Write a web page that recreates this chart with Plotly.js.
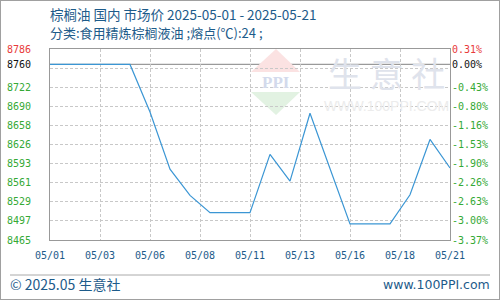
<!DOCTYPE html>
<html><head><meta charset="utf-8">
<script src="https://cdn.plot.ly/plotly-3.0.1.min.js"></script>
<style>
html,body{margin:0;padding:0;background:#fff}
#wrap{position:relative;width:500px;height:300px}
#chart{width:500px;height:300px}
#frame{position:absolute;left:0;top:0;width:500px;height:300px;box-sizing:border-box;border:1px solid #a0a0a0;pointer-events:none}
</style>
</head><body><div id="wrap"><div id="chart"></div><div id="frame"></div></div>
<script>
const dates = ['2025-05-01','2025-05-02','2025-05-03','2025-05-04','2025-05-05','2025-05-06','2025-05-07',
  '2025-05-08','2025-05-09','2025-05-10','2025-05-11','2025-05-12','2025-05-13','2025-05-14',
  '2025-05-15','2025-05-16','2025-05-17','2025-05-18','2025-05-19','2025-05-20','2025-05-21'];
const prices = [8760,8760,8760,8760,8760,8680,8584,8540,8511,8511,8511,8609,8564,8678,8585,8492,8492,8492,8541,8634,8586];
const basePrice = 8760;
const yRange = [8465, 8786];
const yGridVals = [8497.1,8529.2,8561.3,8593.4,8625.5,8657.6,8689.7,8721.8,8753.9];
const yLabelVals = [8465,8497,8529,8561,8593,8626,8658,8690,8722,8760,8786];
const yLabelText = ['8465','8497','8529','8561','8593','8626','8658','8690','8722','8760','8786'];
const pctLabelText = ['-3.37%','-3.00%','-2.63%','-2.26%','-1.90%','-1.53%','-1.16%','-0.80%','-0.43%','0.00%','0.31%'];
const xTickVals = ['2025-05-01 00:00','2025-05-03 12:00','2025-05-06 00:00','2025-05-08 12:00','2025-05-11 00:00',
  '2025-05-13 12:00','2025-05-16 00:00','2025-05-18 12:00','2025-05-21 00:00'];
const xTickText = ['05/01','05/03','05/06','05/08','05/11','05/13','05/16','05/18','05/21'];

const RED='#e83a3a', GREEN='#35a935', BLACK='#111111', BLUE='#1d5b8a';
function colorFor(i){ const v=yLabelVals[i]; if(v===basePrice) return BLACK; if(v>basePrice) return RED; return GREEN; }
const leftText = yLabelText.map((t,i)=>`<span style="color:${colorFor(i)}">${t}</span>`);
const rightText = pctLabelText.map((t,i)=>`<span style="color:${colorFor(i)}">${t}</span>`);

// pixel -> paper helpers for decoration (plot area 50..450 x, 49..240 y)
const PX=(p)=>(p-50)/400, PY=(p)=>(240-p)/191;

const tickFont = {family:'DejaVu Sans Mono, monospace', size:10, color:BLUE};
const traces = [
  {x:dates, y:prices, type:'scatter', mode:'lines', line:{color:'#3b96d4', width:1.2}, hoverinfo:'skip', yaxis:'y'},
  {x:dates, y:prices, type:'scatter', mode:'lines', line:{width:0}, opacity:0, hoverinfo:'skip', yaxis:'y2'},
  {x:dates, y:prices, type:'scatter', mode:'lines', line:{width:0}, opacity:0, hoverinfo:'skip', yaxis:'y3'}
];
const layout = {
  width:500, height:300,
  margin:{l:50, r:50, t:49, b:60, pad:0},
  paper_bgcolor:'#ffffff', plot_bgcolor:'#ffffff',
  showlegend:false,
  title:{text:'棕榈油 国内 市场价 2025-05-01 - 2025-05-21', xref:'paper', x:0, xanchor:'left',
    yref:'container', y:1-15/300, yanchor:'middle', pad:{t:0,b:0,l:0,r:0},
    font:{family:'Noto Sans CJK SC, sans-serif', size:13.5, color:BLUE}},
  xaxis:{type:'date', range:[dates[0], dates[dates.length-1]], tickmode:'array', tickvals:xTickVals, ticktext:xTickText,
    showgrid:true, gridcolor:'#c8c8c8', griddash:'3px,2px', gridwidth:1,
    showline:true, linecolor:'#999999', linewidth:1, mirror:true, ticks:'', zeroline:false,
    tickfont:tickFont, ticklabelstandoff:6, fixedrange:true},
  yaxis:{range:yRange, tickmode:'array', tickvals:yGridVals, showticklabels:false,
    showgrid:true, gridcolor:'#c8c8c8', griddash:'3px,2px', gridwidth:1,
    showline:true, linecolor:'#999999', linewidth:1, mirror:true, ticks:'', zeroline:false, fixedrange:true},
  yaxis2:{overlaying:'y', side:'left', range:yRange, tickmode:'array', tickvals:yLabelVals, ticktext:leftText,
    showgrid:false, showline:false, zeroline:false, ticks:'', ticklabelstandoff:18,
    tickfont:{family:'DejaVu Sans Mono, monospace', size:10, color:GREEN}, fixedrange:true},
  yaxis3:{overlaying:'y', side:'right', range:yRange, tickmode:'array', tickvals:yLabelVals, ticktext:rightText,
    showgrid:false, showline:false, zeroline:false, ticks:'', ticklabelstandoff:1,
    tickfont:{family:'DejaVu Sans Mono, monospace', size:10, color:GREEN}, fixedrange:true},
  shapes:[
    {type:'line', xref:'paper', x0:0, x1:1, yref:'y', y0:basePrice, y1:basePrice, layer:'between',
      line:{color:'#9a9a9a', width:1.2}},
    {type:'path', xref:'paper', yref:'paper', layer:'below', line:{width:0}, fillcolor:'#fbe2e2',
      path:`M ${PX(276)} ${PY(49)} L ${PX(251)} ${PY(72)} L ${PX(300)} ${PY(72)} Z`},
    {type:'path', xref:'paper', yref:'paper', layer:'below', line:{width:0}, fillcolor:'#e2f2e2',
      path:`M ${PX(251)} ${PY(92)} L ${PX(300)} ${PY(92)} L ${PX(276)} ${PY(115)} Z`},
    {type:'line', xref:'paper', yref:'paper', x0:PX(10), x1:PX(490), y0:PY(275), y1:PY(275),
      line:{color:'#aaaaaa', width:1}}
  ],
  annotations:[
    {text:'分类:食用精炼棕榈液油 ;熔点(℃):24 ;', xref:'paper', yref:'paper', x:PX(49), y:PY(33),
      xanchor:'left', yanchor:'middle', showarrow:false, borderpad:0,
      font:{family:'Noto Sans CJK SC, sans-serif', size:13, color:BLUE}},
    {text:'© 2025.05 生意社', xref:'paper', yref:'paper', x:PX(9), y:PY(284),
      xanchor:'left', yanchor:'middle', showarrow:false, borderpad:0,
      font:{family:'Noto Sans CJK SC, sans-serif', size:14, color:BLUE}},
    {text:'www.100PPI.com', xref:'paper', yref:'paper', x:PX(491), y:PY(284),
      xanchor:'right', yanchor:'middle', showarrow:false, borderpad:0,
      font:{family:'DejaVu Sans, sans-serif', size:12.5, color:BLUE}},
    {text:'<b>PPI</b>', xref:'paper', yref:'paper', x:PX(276), y:PY(82),
      xanchor:'center', yanchor:'middle', showarrow:false, borderpad:0,
      font:{family:'Liberation Serif, serif', size:17, color:'#d3daec'}},
    {text:'生 意 社', xref:'paper', yref:'paper', x:PX(386), y:PY(72),
      xanchor:'center', yanchor:'middle', showarrow:false, borderpad:0,
      font:{family:'Noto Sans CJK SC, sans-serif', size:34, color:'#dfe3ec'}},
    {text:'WWW.100PPI.COM', xref:'paper', yref:'paper', x:PX(386), y:PY(106),
      xanchor:'center', yanchor:'middle', showarrow:false, borderpad:0,
      font:{family:'Liberation Sans, sans-serif', size:14, color:'#ececec'}}
  ]
};
Plotly.newPlot('chart', traces, layout, {staticPlot:true, displayModeBar:false});
</script>
</body></html>
